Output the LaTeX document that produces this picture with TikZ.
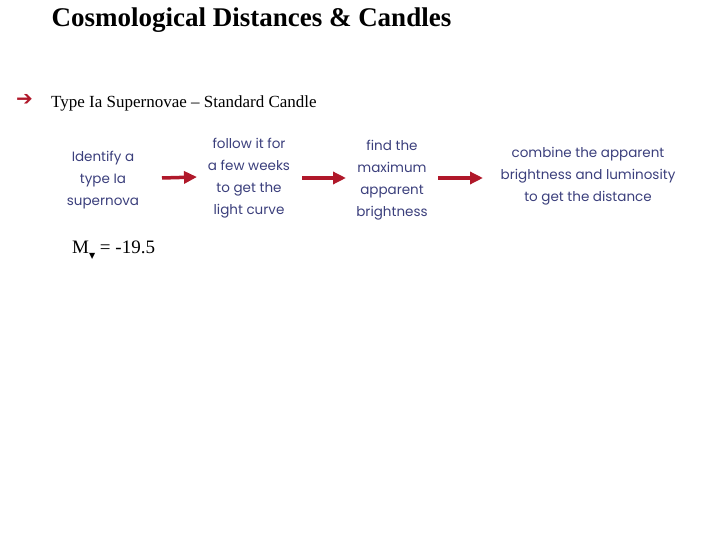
\documentclass[tikz,border=0pt]{standalone}
\usepackage{fontspec}
\setmainfont{Liberation Serif}
\newfontfamily\pop{Poppins}
\newfontfamily\djv{DejaVu Sans}
\usetikzlibrary{arrows.meta}
\definecolor{navy}{HTML}{3B3F7C}
\definecolor{dred}{HTML}{B0182A}
\tikzset{stepbox/.style={font=\pop\fontsize{13.5}{22}\selectfont, text=navy, align=center, inner sep=1pt},
 flow/.style={draw=dred, line width=3.5pt, -{Triangle[length=13pt,width=12pt]}}}
\begin{document}
\begin{tikzpicture}[x=1pt,y=-1pt]
\useasboundingbox (0,0) rectangle (720,540);
\node[anchor=west, font=\fontsize{27}{30}\selectfont\bfseries] (title) at (48,20) {Cosmological Distances \& Candles};
\node[anchor=west, text=dred, font=\djv\fontsize{20}{20}\selectfont, inner sep=0] (bul) at (16,100) {➔};
\node[anchor=west, font=\fontsize{17}{19}\selectfont, inner sep=0] (sub) at (51,103) {Type Ia Supernovae – Standard Candle};
\node[stepbox] (n1) at (103,180) {Identify a\\type Ia\\supernova};
\node[stepbox] (n2) at (249,178) {follow it for\\a few weeks\\to get the\\light curve};
\node[stepbox] (n3) at (392,180) {find the\\maximum\\apparent\\brightness};
\node[stepbox] (n4) at (588,176) {combine the apparent\\brightness and luminosity\\to get the distance};
\draw[flow] (162,178) coordinate (a1) -- (197,177) coordinate (b1);
\draw[flow] (302,178) coordinate (a2) -- (346,178) coordinate (b2);
\draw[flow] (438,178) coordinate (a3) -- (483,178) coordinate (b3);
\node[anchor=west, font=\fontsize{19}{21}\selectfont, inner sep=0] (mv) at (72,250) {M\raisebox{-5pt}{\djv\fontsize{8}{8}\selectfont ▼} = -19.5};
\end{tikzpicture}
\end{document}
